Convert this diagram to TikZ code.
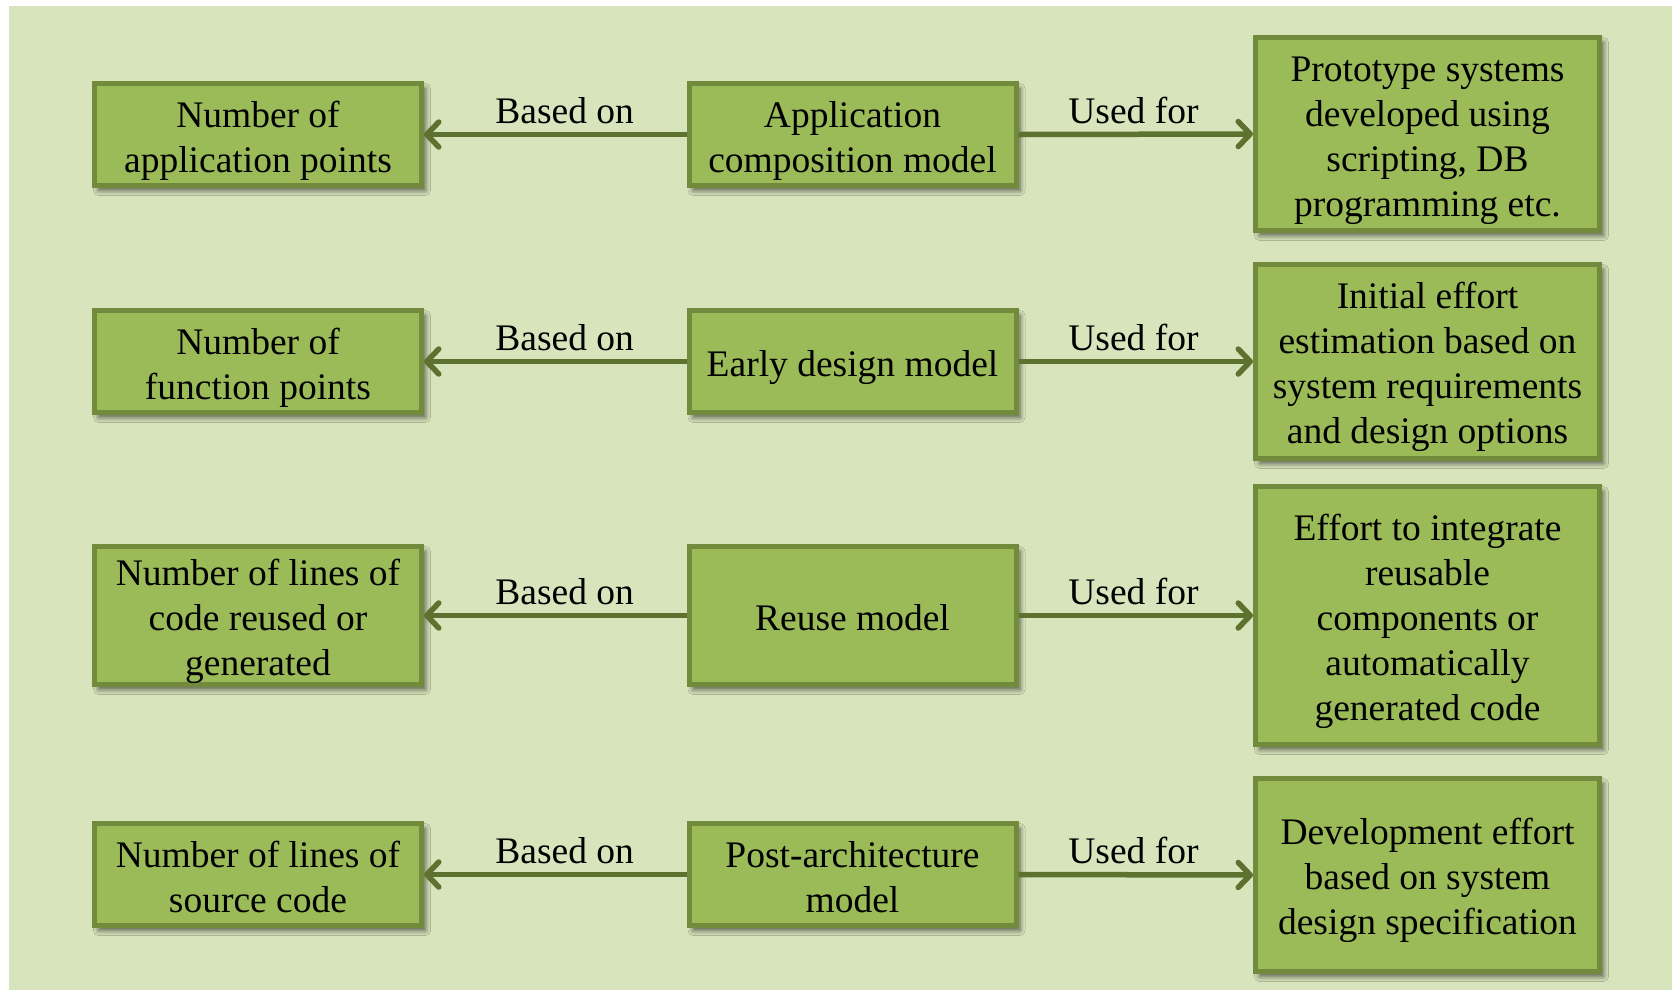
\documentclass[tikz,border=0pt]{standalone}
\usepackage{fontspec}
\setmainfont{Liberation Serif}
\usetikzlibrary{arrows.meta,shadows.blur}
\definecolor{bgc}{RGB}{216,228,188}
\definecolor{boxfill}{RGB}{155,187,89}
\definecolor{boxline}{RGB}{113,138,60}
\definecolor{arrc}{RGB}{92,114,46}
\newcommand\tstrut{\rule{0pt}{38pt}}
\newcommand\bstrut{\rule[-8pt]{0pt}{8pt}}
\tikzset{
  x=1pt,y=-1pt,
  box/.style={draw=boxline, fill=boxfill, line width=5pt, align=center,
    inner xsep=2pt, inner ysep=0pt, font=\fontsize{37.5}{45}\selectfont,
    blur shadow={shadow xshift=4pt, shadow yshift=-5pt, shadow blur steps=6, shadow opacity=60, shadow blur radius=5pt}},
  lbox/.style={box, minimum width=327pt, minimum height=102pt},
  rbox/.style={box, minimum width=344pt},
  conn/.style={draw=arrc, line width=5.5pt, -{Straight Barb[length=12pt,width=25pt,line cap=round,line join=round]}},
  lab/.style={anchor=base, font=\fontsize{37.5}{45}\selectfont, inner sep=0pt}
}
\begin{document}
\begin{tikzpicture}
\useasboundingbox (0,0) rectangle (1677,997);
\fill[bgc] (9,6) rectangle (1672,990);

% row 1
\node[lbox] (l1) at (258,134.5) {\tstrut Number of\\application points\bstrut};
\node[lbox] (m1) at (852.5,134.5) {\tstrut Application\\composition model\bstrut};
\node[rbox, minimum height=193pt] (r1) at (1427.5,134) {\tstrut Prototype systems\\developed using\\scripting, DB\\programming etc.\bstrut};
% row 2
\node[lbox] (l2) at (258,361.5) {\tstrut Number of\\function points\bstrut};
\node[lbox] (m2) at (852.5,361.5) {\tstrut Early design model\bstrut};
\node[rbox, minimum height=194pt] (r2) at (1427.5,361.5) {\tstrut Initial effort\\estimation based on\\system requirements\\and design options\bstrut};
% row 3
\node[lbox, minimum height=138pt] (l3) at (258,615.5) {\tstrut Number of lines of\\code reused or\\generated\bstrut};
\node[lbox, minimum height=138pt] (m3) at (852.5,615.5) {\tstrut Reuse model\bstrut};
\node[rbox, minimum height=258pt] (r3) at (1427.5,615.5) {\tstrut Effort to integrate\\reusable\\components or\\automatically\\generated code\bstrut};
% row 4
\node[lbox] (l4) at (258,874.5) {\tstrut Number of lines of\\source code\bstrut};
\node[lbox] (m4) at (852.5,874.5) {\tstrut Post-architecture\\model\bstrut};
\node[rbox, minimum height=193pt] (r4) at (1427.5,875) {\tstrut Development effort\\based on system\\design specification\bstrut};

\foreach \i in {1,2,3,4}{
  \draw[conn] (m\i.west) -- (l\i.east);
  \draw[conn] (m\i.east) -- (r\i.west);
  \path (m\i.west) -- (l\i.east) node[lab, pos=0.464, yshift=11pt] (b\i) {Based on};
  \path (m\i.east) -- (r\i.west) node[lab, pos=0.49, yshift=11pt] (u\i) {Used for};
}
\end{tikzpicture}
\end{document}
